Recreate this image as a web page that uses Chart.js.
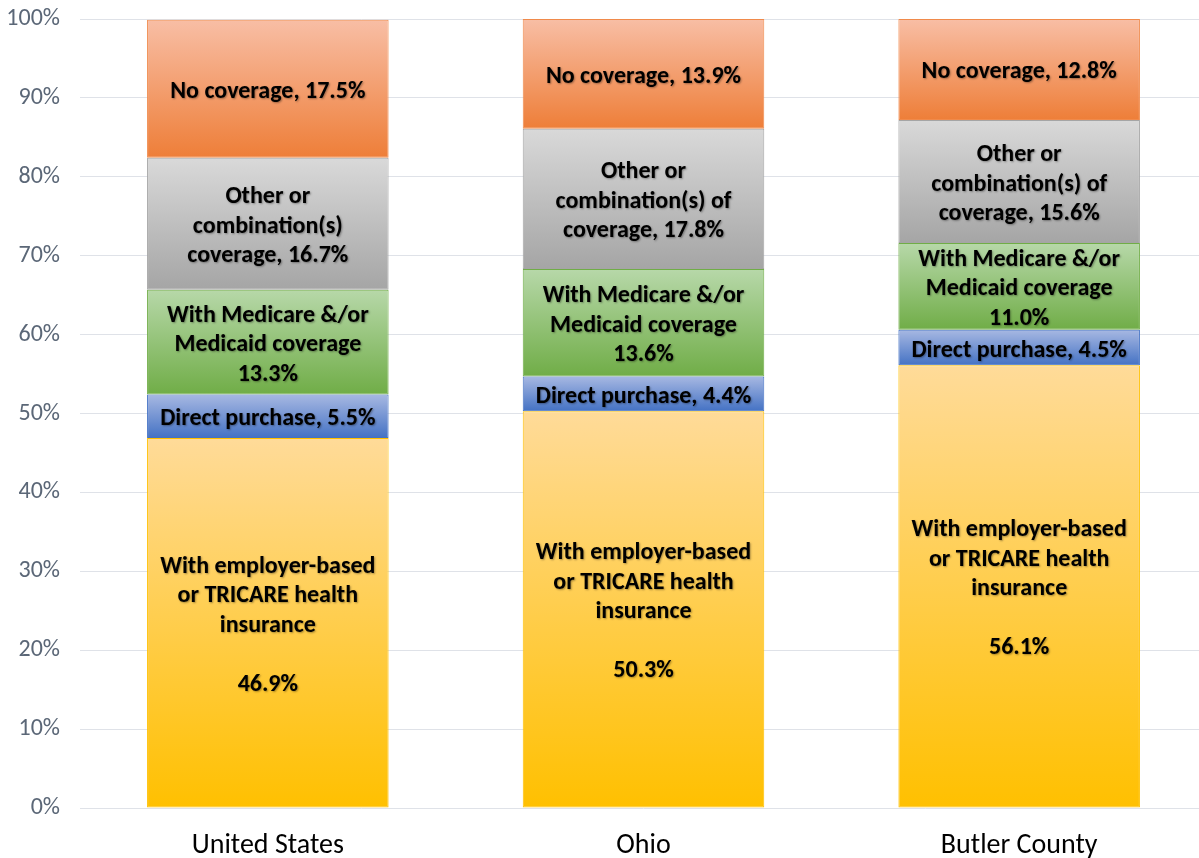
<!DOCTYPE html>
<html>
<head>
<meta charset="utf-8">
<script src="https://cdn.jsdelivr.net/npm/chart.js@4"></script>
<style>
  html, body { margin: 0; padding: 0; background: #fff; overflow: hidden; }
  #wrap { width: 1207px; height: 858px; }
</style>
</head>
<body>
<div id="wrap"><canvas id="chart"></canvas></div>
<script>
const categories = ['United States', 'Ohio', 'Butler County'];

// stacked bottom to top
const employer = [46.9, 50.3, 56.1];
const directPurchase = [5.5, 4.4, 4.5];
const medicare = [13.3, 13.6, 11.0];
const otherCoverage = [16.7, 17.8, 15.6];
const noCoverage = [17.5, 13.9, 12.8];

const yTicks = [0, 10, 20, 30, 40, 50, 60, 70, 80, 90, 100];

// label text per segment, {v} replaced by the value
const employerText = [
  ['With employer-based', 'or TRICARE health', 'insurance', '', '{v}'],
  ['With employer-based', 'or TRICARE health', 'insurance', '', '{v}'],
  ['With employer-based', 'or TRICARE health', 'insurance', '', '{v}']
];
const directText = [['Direct purchase, {v}'], ['Direct purchase, {v}'], ['Direct purchase, {v}']];
const medicareText = [
  ['With Medicare &/or', 'Medicaid coverage', '{v}'],
  ['With Medicare &/or', 'Medicaid coverage', '{v}'],
  ['With Medicare &/or', 'Medicaid coverage', '{v}']
];
const otherText = [
  ['Other or', 'combination(s)', 'coverage, {v}'],
  ['Other or', 'combination(s) of', 'coverage, {v}'],
  ['Other or', 'combination(s) of', 'coverage, {v}']
];
const noneText = [['No coverage, {v}'], ['No coverage, {v}'], ['No coverage, {v}']];

const FONT = 'Carlito, Lato, "Open Sans", sans-serif';

const series = [
  { label: 'Employer', data: employer, text: employerText, top: '#ffdb99', bottom: '#ffc000', border: '#ffc000' },
  { label: 'Direct purchase', data: directPurchase, text: directText, top: '#a7b8e2', bottom: '#4472c4', border: '#4472c4' },
  { label: 'Medicare/Medicaid', data: medicare, text: medicareText, top: '#b7d8a9', bottom: '#70ad47', border: '#70ad47' },
  { label: 'Other', data: otherCoverage, text: otherText, top: '#d9d9d9', bottom: '#a5a5a5', border: '#a5a5a5' },
  { label: 'No coverage', data: noCoverage, text: noneText, top: '#f8bea5', bottom: '#ee7e38', border: '#f08a4b' }
];

function segGradient(ctx, di) {
  const chart = ctx.chart;
  const s = series[di];
  if (!chart.chartArea || ctx.dataIndex === undefined) return s.bottom;
  const i = ctx.dataIndex;
  let start = 0;
  for (let k = 0; k < di; k++) start += series[k].data[i];
  const end = start + s.data[i];
  const y = chart.scales.y;
  const g = chart.ctx.createLinearGradient(0, y.getPixelForValue(end), 0, y.getPixelForValue(start));
  g.addColorStop(0, s.top);
  g.addColorStop(1, s.bottom);
  return g;
}

const segmentLabels = {
  id: 'segmentLabels',
  afterDatasetsDraw(chart) {
    const c = chart.ctx;
    c.save();
    c.font = 'bold 24px ' + FONT;
    c.textAlign = 'center';
    c.textBaseline = 'middle';
    c.fillStyle = '#000';
    c.shadowColor = 'rgba(0,0,0,0.35)';
    c.shadowBlur = 2;
    c.shadowOffsetX = 1;
    c.shadowOffsetY = 1;
    const lh = 29.5;
    series.forEach((s, di) => {
      chart.getDatasetMeta(di).data.forEach((bar, i) => {
        const lines = s.text[i].map(t => t.replace('{v}', s.data[i].toFixed(1) + '%'));
        const mid = (bar.y + bar.base) / 2 + 3;
        const y0 = mid - (lines.length - 1) * lh / 2;
        lines.forEach((t, li) => { if (t) c.fillText(t, bar.x, y0 + li * lh); });
      });
    });
    c.restore();
  }
};

new Chart(document.getElementById('chart'), {
  type: 'bar',
  data: {
    labels: categories,
    datasets: series.map((s, di) => ({
      label: s.label,
      data: s.data,
      backgroundColor: ctx => segGradient(ctx, di),
      borderColor: s.border,
      borderWidth: 1,
      borderSkipped: false,
      barPercentage: 0.643,
      categoryPercentage: 1
    }))
  },
  options: {
    responsive: true,
    maintainAspectRatio: false,
    animation: false,
    layout: { padding: { top: 19, right: 0, left: 0, bottom: 0 } },
    plugins: {
      legend: { display: false },
      tooltip: { enabled: false }
    },
    scales: {
      x: {
        stacked: true,
        grid: { display: false },
        border: { display: false },
        ticks: { color: '#000', font: { family: FONT, size: 28 }, padding: 13 },
        afterFit(scale) { scale.height = 50; scale.paddingLeft = 0; scale.paddingRight = 0; }
      },
      y: {
        stacked: true,
        min: 0,
        max: 100,
        afterBuildTicks(scale) { scale.ticks = yTicks.map(v => ({ value: v })); },
        grid: { color: '#dfe2e8', lineWidth: 1, drawTicks: false },
        border: { display: false },
        ticks: {
          color: '#5b6777',
          font: { family: FONT, size: 24 },
          padding: 20,
          callback: v => v + '%'
        },
        afterFit(scale) { scale.width = 80; scale.paddingTop = 0; scale.paddingBottom = 0; }
      }
    }
  },
  plugins: [segmentLabels]
});
</script>
</body>
</html>
